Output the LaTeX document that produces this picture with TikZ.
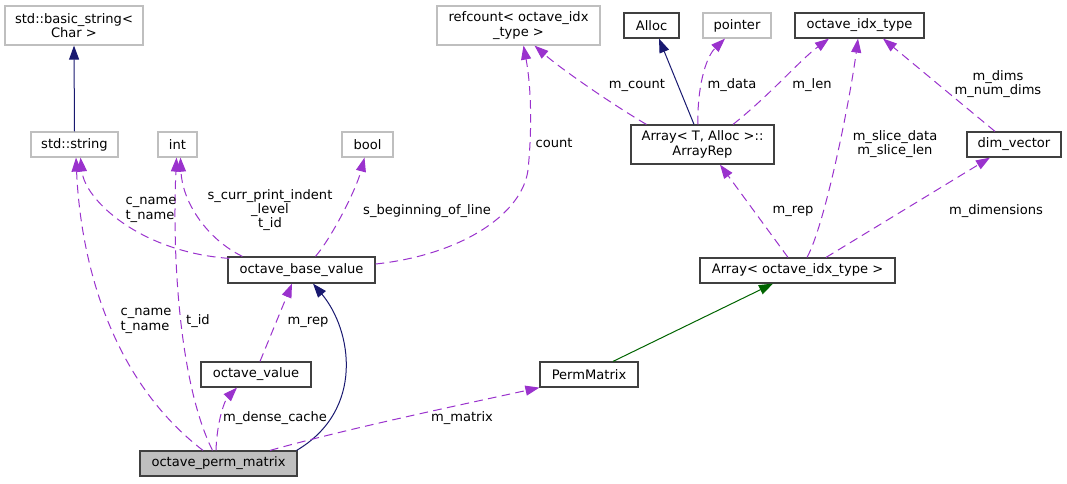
\documentclass[tikz,border=0pt]{standalone}
\usepackage{fontspec}
\setmainfont{DejaVu Sans}
\usetikzlibrary{arrows.meta,calc}
\definecolor{edgepurple}{HTML}{9A32CD}
\definecolor{edgenavy}{HTML}{191970}
\definecolor{edgegreen}{HTML}{006400}
\definecolor{grayborder}{HTML}{BFBFBF}
\definecolor{darkborder}{HTML}{404040}
\begin{document}
\begin{tikzpicture}[x=0.75pt,y=-0.75pt,
  font=\fontsize{9.8}{10.8}\selectfont,
  cls/.style={draw=darkborder, line width=0.9pt, inner sep=0pt, align=center, fill=white},
  ext/.style={draw=grayborder, line width=0.9pt, inner sep=0pt, align=center, fill=white},
  cur/.style={cls, fill=grayborder},
  tip/.style={-{Triangle[length=10.5pt,width=7.5pt]}},
  usage/.style={draw=edgepurple, dash pattern=on 6.5pt off 4pt, line width=0.75pt, tip},
  inherit/.style={draw=edgenavy, line width=0.75pt, tip},
  tmpl/.style={draw=edgegreen, line width=0.75pt, tip},
  lbl/.style={inner sep=0pt, align=center}
]
\useasboundingbox (0,0) rectangle (1067,483);

% nodes
\node[ext, minimum width=103.5pt, minimum height=29.25pt] (basic) at (74,25.5) {std::basic\_string\textless\\Char \textgreater};
\node[ext, minimum width=65.25pt, minimum height=18.75pt] (str) at (74.5,144.5) {std::string};
\node[ext, minimum width=29.25pt, minimum height=18.75pt] (int) at (177.5,144.5) {int};
\node[ext, minimum width=38.25pt, minimum height=18.75pt] (bool) at (367.5,144.5) {bool};
\node[ext, minimum width=122.25pt, minimum height=29.25pt] (ref) at (518.5,25.5) {refcount\textless{} octave\_idx\\\_type \textgreater};
\node[cls, minimum width=41.25pt, minimum height=18.75pt] (alloc) at (651.5,25.5) {Alloc};
\node[ext, minimum width=51pt, minimum height=18.75pt] (ptr) at (737,25.5) {pointer};
\node[cls, minimum width=96.75pt, minimum height=18.75pt] (idx) at (859.5,25.5) {octave\_idx\_type};
\node[cls, minimum width=107.25pt, minimum height=29.25pt] (rep) at (702.5,144.5) {Array\textless{} T, Alloc \textgreater::\\ArrayRep};
\node[cls, minimum width=70.5pt, minimum height=18.75pt] (dim) at (1014,144.5) {dim\_vector};
\node[cls, minimum width=110.25pt, minimum height=19.5pt] (base) at (301.5,270) {octave\_base\_value};
\node[cls, minimum width=146.25pt, minimum height=18.75pt] (arr) at (797.5,270.5) {Array\textless{} octave\_idx\_type \textgreater};
\node[cls, minimum width=82.5pt, minimum height=18.75pt] (ov) at (256,374.5) {octave\_value};
\node[cls, minimum width=73.5pt, minimum height=18.75pt] (perm) at (589,374.5) {PermMatrix};
\node[cur, minimum width=117.75pt, minimum height=18.75pt] (pm) at (218.5,463.5) {octave\_perm\_matrix};

% edges
\draw[inherit] (str.north) -- (basic.south);
\draw[usage] ($(pm.north)+(-15.5,0)$) .. controls (105,375) and (80,250) .. ($(str.south)+(1.5,0)$);
\draw[usage] ($(base.north west)+(2,2)$) .. controls (140,252) and (85,200) .. ($(str.south)+(6,0)$);
\draw[usage] ($(pm.north)+(-6,0)$) .. controls (180,385) and (172,260) .. ($(int.south)+(-1,0)$);
\draw[usage] ($(base.north west)+(15,0)$) .. controls (205,238) and (182,200) .. ($(int.south)+(3,0)$);
\draw[usage] ($(base.north)+(14,0)$) .. controls (332,237) and (356,190) .. ($(bool.south)+(-3,0)$);
\draw[usage] ($(base.east)+(0,-6)$) .. controls (460,255) and (522,215) .. (528,170) .. controls (533,120) and (530,80) .. ($(ref.south)+(5,0)$);
\draw[usage] ($(rep.north west)+(16,0)$) .. controls (610,103) and (560,68) .. ($(ref.south)+(16,0)$);
\draw[inherit] ($(rep.north)+(-8.5,0)$) -- ($(alloc.south)+(7.5,0)$);
\draw[usage] ($(rep.north)+(-4.5,0)$) .. controls (697,90) and (705,58) .. ($(ptr.south)+(-12,0)$);
\draw[usage] ($(rep.north)+(30.5,0)$) .. controls (770,95) and (800,60) .. ($(idx.south)+(-30.5,0)$);
\draw[usage] ($(arr.north)+(9.5,0)$) .. controls (825,225) and (850,100) .. ($(idx.south)+(-1.5,0)$);
\draw[usage] ($(dim.north)+(-19,0)$) -- ($(idx.south)+(23.5,0)$);
\draw[usage] ($(arr.north)+(-9.5,0)$) -- ($(rep.south)+(17.5,0)$);
\draw[usage] ($(arr.north)+(28.5,0)$) -- ($(dim.south)+(-24,0)$);
\draw[tmpl] ($(perm.north)+(24,0)$) -- ($(arr.south)+(-24.5,0)$);
\draw[usage] ($(ov.north)+(4,0)$) -- ($(base.south)+(-9.5,0)$);
\draw[inherit] ($(pm.north east)+(-1,0)$) .. controls (365,410) and (352,330) .. ($(base.south)+(11.5,0)$);
\draw[usage] ($(pm.north)+(-2.5,0)$) .. controls (217,420) and (225,400) .. ($(ov.south)+(-19,0)$);
\draw[usage] ($(pm.north)+(51.5,0)$) .. controls (350,428) and (460,405) .. (perm.south west);

% labels
\node[lbl, align=left] (l1) at (151,210) {c\_name\\t\_name};
\node[lbl, align=left] (l2) at (146,321) {c\_name\\t\_name};
\node[lbl] (l3) at (198,321) {t\_id};
\node[lbl] (l4) at (270,210) {s\_curr\_print\_indent\\\_level\\t\_id};
\node[lbl] (l5) at (427,211) {s\_beginning\_of\_line};
\node[lbl] (l6) at (554,143) {count};
\node[lbl] (l7) at (637,85) {m\_count};
\node[lbl] (l8) at (732,85) {m\_data};
\node[lbl] (l9) at (812,85) {m\_len};
\node[lbl] (l10) at (895,144) {m\_slice\_data\\m\_slice\_len};
\node[lbl] (l11) at (998,84) {m\_dims\\m\_num\_dims};
\node[lbl] (l12) at (793,211) {m\_rep};
\node[lbl] (l13) at (996,211) {m\_dimensions};
\node[lbl] (l14) at (308,322) {m\_rep};
\node[lbl] (l15) at (275,418) {m\_dense\_cache};
\node[lbl] (l16) at (462,418) {m\_matrix};
\end{tikzpicture}
\end{document}
